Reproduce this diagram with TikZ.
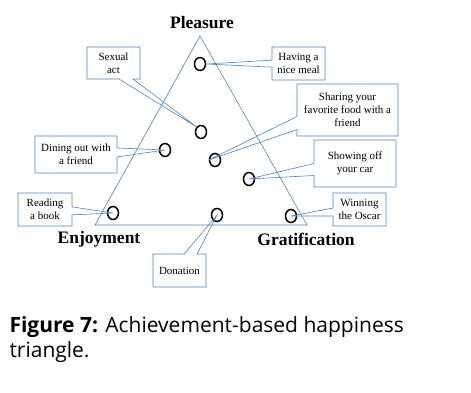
\documentclass[tikz,border=0pt]{standalone}
\usepackage{fontspec}
\setmainfont{Liberation Serif}
\newfontfamily\capfont{Open Sans}
\usetikzlibrary{shapes.geometric,shapes.callouts,positioning}
\definecolor{lineblue}{RGB}{79,129,189}

\begin{document}
\begin{tikzpicture}[
  x=1pt, y=-1pt,
  corner/.style={font=\bfseries\fontsize{17.5}{19}\selectfont},
  act/.style={draw, ellipse, line width=1.5pt, minimum width=11pt,
    minimum height=13pt, inner sep=0pt},
  note/.style={rectangle callout, draw=lineblue, line width=0.6pt,
    align=center, inner sep=1pt, font=\fontsize{11}{13}\selectfont},
  caption/.style={font=\capfont\fontsize{21}{25}\selectfont, anchor=base west},
]
\useasboundingbox (0,0) rectangle (471,392);

% Triangle corners
\coordinate (top) at (200,36);
\coordinate (left) at (95,225);
\coordinate (right) at (307,225);
\draw[lineblue, line width=0.6pt] (top) -- (right) -- (left) -- cycle;

\node[corner] (pleasure) at (202,23) {Pleasure};
\node[corner] (enjoy) at (99,239) {Enjoyment};
\node[corner] (grat) at (306,239) {Gratification};

% Activities on the triangle
\node[act] (meal) at (200,64) {};
\node[act] (sex) at (201,132) {};
\node[act] (dine) at (165,150) {};
\node[act] (share) at (215,160) {};
\node[act] (show) at (249,179) {};
\node[act] (oscar) at (291,216) {};
\node[act] (book) at (113,213) {};
\node[act] (gift) at (217,215) {};

% Callouts pointing to the activities
\node[note, minimum width=53pt, minimum height=32pt, callout pointer width=14pt,
      callout absolute pointer={(sex.north west)}] (sexnote) at (113.5,63) {Sexual\\act};
\node[note, minimum width=53pt, minimum height=33pt, callout pointer width=7pt,
      callout absolute pointer={(meal.east)}] (mealnote) at (298.5,63.5) {Having a\\nice meal};
\node[note, minimum width=101pt, minimum height=52pt, callout pointer width=13pt,
      callout absolute pointer={(share.west)}] (sharenote) at (347.5,110)
      {Sharing your\\favorite food with a\\friend};
\node[note, minimum width=82pt, minimum height=47pt, callout pointer width=12pt,
      callout absolute pointer={(show.center)}] (shownote) at (355,163.5) {Showing off\\your car};
\node[note, minimum width=53pt, minimum height=33pt, callout pointer width=8pt,
      callout absolute pointer={(oscar.center)}] (oscarnote) at (359.5,209.5) {Winning\\the Oscar};
\node[note, minimum width=82pt, minimum height=37pt, callout pointer width=9pt,
      callout absolute pointer={(dine.center)}] (dinenote) at (76,154.5) {Dining out with\\a friend};
\node[note, minimum width=54pt, minimum height=33pt, callout pointer width=8pt,
      callout absolute pointer={(book.center)}] (booknote) at (45,209.5) {Reading\\a book};
\node[note, minimum width=53pt, minimum height=33pt, callout pointer width=13pt,
      callout absolute pointer={(gift.center)}] (giftnote) at (179.5,270.5) {Donation};

% Caption
\node[caption] (cap1) at (6,332) {\textbf{Figure 7:} Achievement-based happiness};
\node[caption] (cap2) at (6,357) {triangle.};
\end{tikzpicture}
\end{document}
